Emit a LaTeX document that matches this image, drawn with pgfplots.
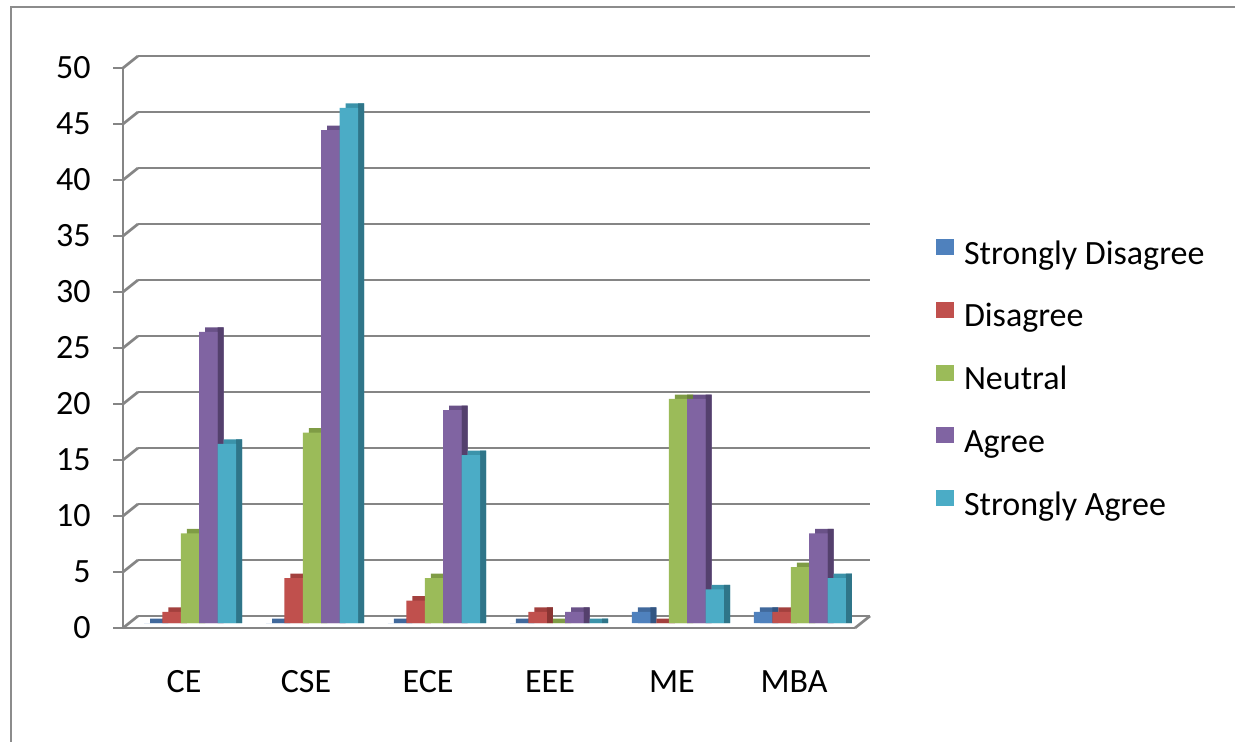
\documentclass[border=0pt]{standalone}
\usepackage{pgfplots}
\pgfplotsset{compat=1.18}
\usepackage{pgfplotstable}
\usepackage{fontspec}
\setmainfont{Carlito}
\definecolor{gridc}{HTML}{858585}
\definecolor{bordc}{HTML}{8C8C8C}
\definecolor{ca}{HTML}{4F81BD}\definecolor{cat}{HTML}{41699C}\definecolor{cas}{HTML}{335581}
\definecolor{cb}{HTML}{C0504D}\definecolor{cbt}{HTML}{A3403E}\definecolor{cbs}{HTML}{8A3533}
\definecolor{cc}{HTML}{9BBB59}\definecolor{cct}{HTML}{7F9C45}\definecolor{ccs}{HTML}{6A833A}
\definecolor{cd}{HTML}{8064A2}\definecolor{cdt}{HTML}{6A5288}\definecolor{cds}{HTML}{54406D}
\definecolor{ce}{HTML}{4BACC6}\definecolor{cet}{HTML}{3B93AA}\definecolor{ces}{HTML}{2F7589}
\pgfplotstableread{
x sd d n a sa
0 0 1 8 26 16
1 0 4 17 44 46
2 0 2 4 19 15
3 0 1 0 1 0
4 1 0 20 20 3
5 1 1 5 8 4
}\data
\begin{document}
\begin{tikzpicture}
\draw[bordc, line width=1.1pt] (5.5pt,-3.5pt) rectangle (640pt,-400pt);
% back wall gridlines
\begin{axis}[at={(69pt,-308pt)}, anchor=south west, scale only axis,
  width=366pt, height=280pt, xmin=-0.5, xmax=5.5, ymin=0, ymax=50,
  ytick={0,5,...,50}, xtick=\empty, yticklabels={}, ymajorgrids,
  major grid style={gridc, line width=1.35pt}, axis line style={draw=none},
  major tick length=0pt, clip=false]
\pgfplotsinvokeforeach{0,5,...,50}{\draw[gridc, line width=1.35pt] (axis cs:-0.5,#1) -- ++(-7.5pt,-6pt);}
\draw[gridc, line width=1.35pt] (axis cs:5.5,0) -- ++(-7.5pt,-6pt);
\end{axis}
% front axis: lines, ticks, labels
\begin{axis}[at={(61.5pt,-314pt)}, anchor=south west, scale only axis,
  width=366pt, height=280pt, xmin=-0.5, xmax=5.5, ymin=0, ymax=50,
  axis x line=bottom, axis y line=left, axis line style={-, gridc, line width=1.35pt},
  ytick={0,5,...,50}, xtick={0,...,5}, xticklabels={CE,CSE,ECE,EEE,ME,MBA},
  minor xtick={-0.5,0.5,...,5.5},
  tick align=outside, major tick length=5pt, minor tick length=6pt,
  ytick style={gridc, line width=1.35pt}, xtick style={draw=none},
  minor x tick style={gridc, line width=1.35pt},
  /pgf/number format/assume math mode=true,
  tick label style={font=\fontsize{17}{20}\selectfont},
  yticklabel style={anchor=east, inner sep=0pt, xshift=-11pt},
  xticklabel style={anchor=north, inner sep=0pt, yshift=-16pt},
  clip=false]
\end{axis}
% bars
\begin{axis}[at={(64.5pt,-311.5pt)}, anchor=south west, scale only axis,
  width=366pt, height=280pt, xmin=-0.5, xmax=5.5, ymin=0, ymax=50,
  hide axis, clip=false, ybar,
  legend style={draw=none, fill=none, inner sep=0pt, outer sep=0pt,
    at={(1.1025,0.6857)}, anchor=north west, row sep=14.9pt,
    nodes={inner sep=0pt, text height=12pt, text depth=4pt, font=\fontsize{17}{20}\selectfont},
    /tikz/every odd column/.style={column sep=5pt}},
  legend cell align=left,
  legend image code/.code={\fill[#1] (0pt,0.5pt) rectangle (9pt,8.5pt);}]
% Strongly Disagree
\addplot[fill=cat, draw=none, bar width=9.2pt, bar shift=-15.4pt, forget plot] table[x=x, y expr=\thisrow{sd}+0.4]{\data};
\addplot[fill=cas, draw=none, bar width=3pt, bar shift=-12.3pt, forget plot] table[x=x, y expr=\thisrow{sd}+0.4]{\data};
\addplot[fill=ca, draw=none, bar width=9.2pt, bar shift=-18.4pt] table[x=x, y=sd]{\data};
\addlegendentry{Strongly Disagree}
% Disagree
\addplot[fill=cbt, draw=none, bar width=9.2pt, bar shift=-6.2pt, forget plot] table[x=x, y expr=\thisrow{d}+0.4]{\data};
\addplot[fill=cbs, draw=none, bar width=3pt, bar shift=-3.1pt, forget plot] table[x=x, y expr=\thisrow{d}+0.4]{\data};
\addplot[fill=cb, draw=none, bar width=9.2pt, bar shift=-9.2pt] table[x=x, y=d]{\data};
\addlegendentry{Disagree}
% Neutral
\addplot[fill=cct, draw=none, bar width=9.2pt, bar shift=3pt, forget plot] table[x=x, y expr=\thisrow{n}+0.4]{\data};
\addplot[fill=ccs, draw=none, bar width=3pt, bar shift=6.1pt, forget plot] table[x=x, y expr=\thisrow{n}+0.4]{\data};
\addplot[fill=cc, draw=none, bar width=9.2pt, bar shift=0pt] table[x=x, y=n]{\data};
\addlegendentry{Neutral}
% Agree
\addplot[fill=cdt, draw=none, bar width=9.2pt, bar shift=12.2pt, forget plot] table[x=x, y expr=\thisrow{a}+0.4]{\data};
\addplot[fill=cds, draw=none, bar width=3pt, bar shift=15.3pt, forget plot] table[x=x, y expr=\thisrow{a}+0.4]{\data};
\addplot[fill=cd, draw=none, bar width=9.2pt, bar shift=9.2pt] table[x=x, y=a]{\data};
\addlegendentry{Agree}
% Strongly Agree
\addplot[fill=cet, draw=none, bar width=9.2pt, bar shift=21.4pt, forget plot] table[x=x, y expr=\thisrow{sa}+0.4]{\data};
\addplot[fill=ces, draw=none, bar width=3pt, bar shift=24.5pt, forget plot] table[x=x, y expr=\thisrow{sa}+0.4]{\data};
\addplot[fill=ce, draw=none, bar width=9.2pt, bar shift=18.4pt] table[x=x, y=sa]{\data};
\addlegendentry{Strongly Agree}
\end{axis}
\pgfresetboundingbox
\useasboundingbox (0pt,0pt) rectangle (617.5pt,-371pt);
\end{tikzpicture}
\end{document}
